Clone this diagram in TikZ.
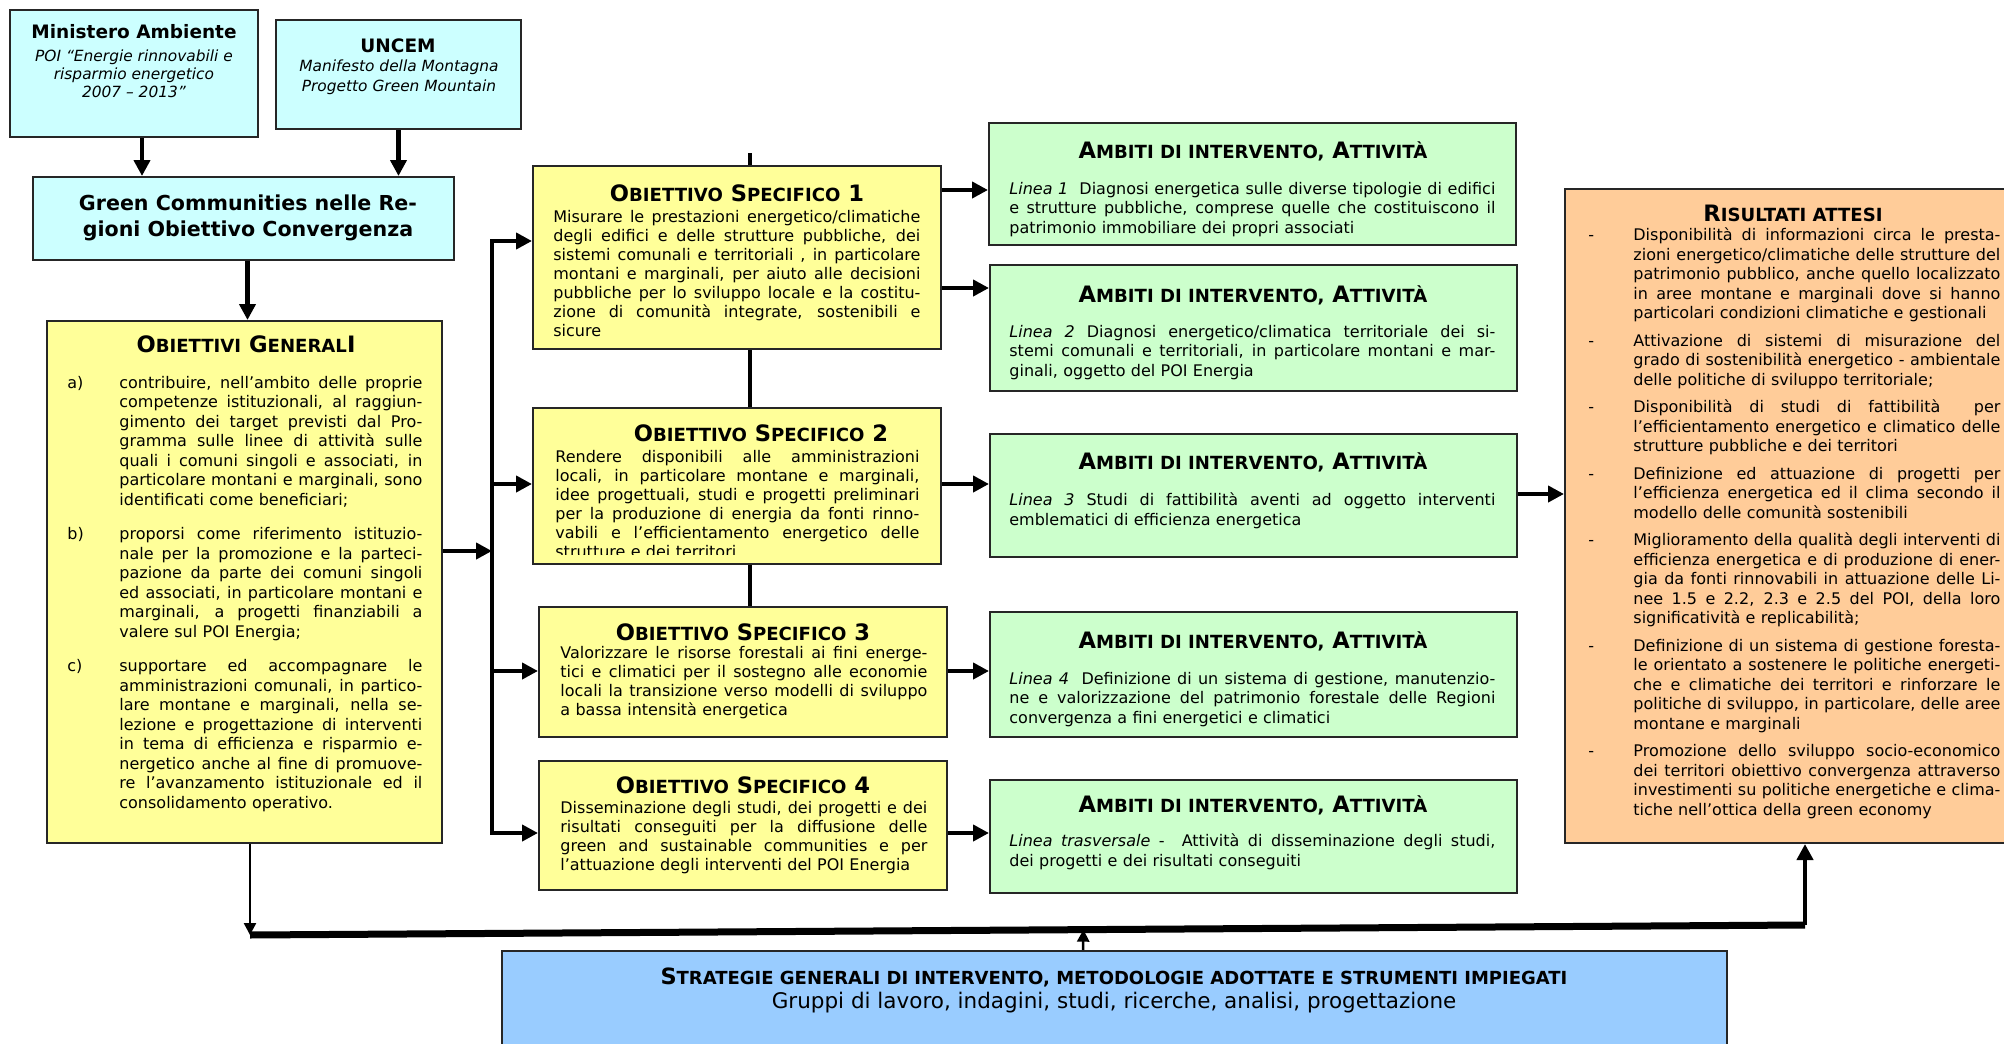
\documentclass[tikz,border=0pt]{standalone}
\usepackage{fontspec}
\setmainfont{DejaVu Sans}
\usetikzlibrary{arrows.meta, fit, calc}

\definecolor{cyanbox}{HTML}{CCFFFF}
\definecolor{yellowbox}{HTML}{FFFF99}
\definecolor{greenbox}{HTML}{CCFFCC}
\definecolor{orangebox}{HTML}{FFCC99}
\definecolor{bluebox}{HTML}{99CCFF}

\newcommand{\smsize}{9.05}
\newcommand{\sm}[1]{{\fontsize{\smsize}{10}\selectfont #1}}
\newcommand{\jlw}{\linewidth}
\newcommand{\jl}[1]{\leavevmode\hbox to \jlw{\spaceskip=0.32em plus 1fil\relax #1}\newline}
\newcommand{\ttlfont}{\fontsize{11.3}{13}\selectfont\bfseries}
\newcommand{\bodyfont}{\fontsize{8}{9.5}\selectfont}

\begin{document}
\begin{tikzpicture}[x=0.5pt, y=-0.5pt,
    box/.style={draw=black!85, line width=1pt, inner sep=0pt},
    cbox/.style={box, fill=cyanbox},
    ybox/.style={box, fill=yellowbox},
    gbox/.style={box, fill=greenbox},
    obox/.style={box, fill=orangebox},
    bbox/.style={box, fill=bluebox},
    ttl/.style={inner sep=0pt, anchor=base, font=\ttlfont},
    note/.style={inner sep=0pt, anchor=north, align=center, font=\fontsize{7.7}{9}\selectfont\itshape},
    body/.style={inner sep=0pt, anchor=north west, font=\bodyfont},
    arr/.style={line width=2.25pt, -{Triangle[length=8pt, width=8pt]}},
    arrthin/.style={line width=1.25pt, -{Triangle[length=6pt, width=6pt]}},
    link/.style={line width=2.25pt}]

    \useasboundingbox (0,0) rectangle (2004,1044);

    % Sources
    \node[cbox, fit={(10,10)(258,137)}] (min) {};
    \node[ttl, font=\fontsize{9.25}{11}\selectfont\bfseries] (mint) at (134,39) {Ministero Ambiente};
    \node[note] (minx) at (134,49) {POI “Energie rinnovabili e\\risparmio energetico\\2007 – 2013”};

    \node[cbox, fit={(276,20)(521,129)}] (unc) {};
    \node[ttl, font=\fontsize{9.25}{11}\selectfont\bfseries] (unct) at (398,53) {UNCEM};
    \node[note, font=\fontsize{7.7}{10}\selectfont\itshape] (uncx) at (399,59) {Manifesto della Montagna\\Progetto Green Mountain};

    \node[cbox, fit={(33,177)(454,260)}] (gc) {};
    \node[inner sep=0pt, anchor=north, align=center, font=\fontsize{10.3}{13}\selectfont\bfseries] (gct) at (248,194)
        {Green Communities nelle Re-\\gioni Obiettivo Convergenza};

    % General objectives
    \node[ybox, fit={(47,321)(442,843)}] (og) {};
    \node[ttl] (ogt) at (246,352) {O\sm{BIETTIVI} G\sm{ENERAL}I};
    \node[body, text width=177.5pt, font=\fontsize{8}{9.75}\selectfont] (ogx) at (67,375.5) {%
        \parindent=0pt\leftskip=26pt\def\jlw{151.5pt}%
        \leavevmode\llap{\makebox[26pt][l]{a)}}%
        \jl{contribuire, nell’ambito delle proprie}
        \jl{competenze istituzionali, al raggiun-}
        \jl{gimento dei target previsti dal Pro-}
        \jl{gramma sulle linee di attività sulle}
        \jl{quali i comuni singoli e associati, in}
        \jl{particolare montani e marginali, sono}
        identificati come beneficiari;\par\vspace{7.5pt}
        \leavevmode\llap{\makebox[26pt][l]{b)}}%
        \jl{proporsi come riferimento istituzio-}
        \jl{nale per la promozione e la parteci-}
        \jl{pazione da parte dei comuni singoli}
        \jl{ed associati, in particolare montani e}
        \jl{marginali, a progetti finanziabili a}
        valere sul POI Energia;\par\vspace{7.5pt}
        \leavevmode\llap{\makebox[26pt][l]{c)}}%
        \jl{supportare ed accompagnare le}
        \jl{amministrazioni comunali, in partico-}
        \jl{lare montane e marginali, nella se-}
        \jl{lezione e progettazione di interventi}
        \jl{in tema di efficienza e risparmio e-}
        \jl{nergetico anche al fine di promuove-}
        \jl{re l’avanzamento istituzionale ed il}
        consolidamento operativo.\par};

    % Specific objectives
    \node[ybox, fit={(533,166)(941,349)}] (os1) {};
    \node[ttl] (os1t) at (737,201) {O\sm{BIETTIVO} S\sm{PECIFICO} 1};
    \node[body, text width=183.5pt] (os1x) at (553,209.5) {%
        \jl{Misurare le prestazioni energetico/climatiche}
        \jl{degli edifici e delle strutture pubbliche, dei}
        \jl{sistemi comunali e territoriali , in particolare}
        \jl{montani e marginali, per aiuto alle decisioni}
        \jl{pubbliche per lo sviluppo locale e la costitu-}
        \jl{zione di comunità integrate, sostenibili e}
        sicure};

    \node[ybox, fit={(533,408)(941,564)}] (os2) {};
    \node[ttl] (os2t) at (761,441) {O\sm{BIETTIVO} S\sm{PECIFICO} 2};
    \begin{scope}
        \clip (os2.north west) rectangle ([yshift=5.5pt]os2.south east);
        \node[body, text width=182pt] (os2x) at (555,449.5) {%
            \jl{Rendere disponibili alle amministrazioni}
            \jl{locali, in particolare montane e marginali,}
            \jl{idee progettuali, studi e progetti preliminari}
            \jl{per la produzione di energia da fonti rinno-}
            \jl{vabili e l’efficientamento energetico delle}
            strutture e dei territori};
    \end{scope}

    \node[ybox, fit={(539,607)(947,737)}] (os3) {};
    \node[ttl] (os3t) at (743,640) {O\sm{BIETTIVO} S\sm{PECIFICO} 3};
    \node[body, text width=183.5pt] (os3x) at (560,645.5) {%
        \jl{Valorizzare le risorse forestali ai fini energe-}
        \jl{tici e climatici per il sostegno alle economie}
        \jl{locali la transizione verso modelli di sviluppo}
        a bassa intensità energetica};

    \node[ybox, fit={(539,761)(947,890)}] (os4) {};
    \node[ttl] (os4t) at (743,793) {O\sm{BIETTIVO} S\sm{PECIFICO} 4};
    \node[body, text width=183.5pt] (os4x) at (560,800.5) {%
        \jl{Disseminazione degli studi, dei progetti e dei}
        \jl{risultati conseguiti per la diffusione delle}
        \jl{green and sustainable communities e per}
        l’attuazione degli interventi del POI Energia};

    % Lines of intervention
    \node[gbox, fit={(989,123)(1516,245)}] (a1) {};
    \node[ttl] (a1t) at (1253,158) {A\sm{MBITI DI INTERVENTO,} A\sm{TTIVITÀ}};
    \node[body, text width=243pt, font=\fontsize{8}{9.75}\selectfont] (a1x) at (1009,181.5) {%
        \jl{\textit{Linea 1}\ \ Diagnosi energetica sulle diverse tipologie di edifici}
        \jl{e strutture pubbliche, comprese quelle che costituiscono il}
        patrimonio immobiliare dei propri associati};

    \node[gbox, fit={(990,265)(1517,391)}] (a2) {};
    \node[ttl] (a2t) at (1253,302) {A\sm{MBITI DI INTERVENTO,} A\sm{TTIVITÀ}};
    \node[body, text width=243pt, font=\fontsize{8}{9.75}\selectfont] (a2x) at (1009,324.5) {%
        \jl{\textit{Linea 2}\ Diagnosi energetico/climatica territoriale dei si-}
        \jl{stemi comunali e territoriali, in particolare montani e mar-}
        ginali, oggetto del POI Energia};

    \node[gbox, fit={(990,434)(1517,557)}] (a3) {};
    \node[ttl] (a3t) at (1253,469) {A\sm{MBITI DI INTERVENTO,} A\sm{TTIVITÀ}};
    \node[body, text width=243pt, font=\fontsize{8}{9.75}\selectfont] (a3x) at (1009,492.5) {%
        \jl{\textit{Linea 3}\ Studi di fattibilità aventi ad oggetto interventi}
        emblematici di efficienza energetica};

    \node[gbox, fit={(990,612)(1517,737)}] (a4) {};
    \node[ttl] (a4t) at (1253,648) {A\sm{MBITI DI INTERVENTO,} A\sm{TTIVITÀ}};
    \begin{scope}
        \clip (a4.north west) rectangle ([yshift=5.5pt]a4.south east);
        \node[body, text width=243pt, font=\fontsize{8}{9.75}\selectfont] (a4x) at (1009,671.5) {%
            \jl{\textit{Linea 4}\ \ Definizione di un sistema di gestione, manutenzio-}
            \jl{ne e valorizzazione del patrimonio forestale delle Regioni}
            convergenza a fini energetici e climatici};
    \end{scope}

    \node[gbox, fit={(990,780)(1517,893)}] (a5) {};
    \node[ttl] (a5t) at (1253,812) {A\sm{MBITI DI INTERVENTO,} A\sm{TTIVITÀ}};
    \node[body, text width=243pt, font=\fontsize{8}{9.75}\selectfont] (a5x) at (1009,833.5) {%
        \jl{\textit{Linea trasversale} -\ \ Attività di disseminazione degli studi,}
        dei progetti e dei risultati conseguiti};

    % Expected results
    \node[obox, fit={(1565,189)(2030,843)}] (res) {};
    \node[ttl] (rest) at (1793,221) {R\sm{ISULTATI ATTESI}};
    \node[body, text width=206pt, font=\fontsize{8}{9.75}\selectfont] (resx) at (1588,227.5) {%
        \parindent=0pt\leftskip=22.5pt\def\jlw{183.5pt}%
        \leavevmode\llap{\makebox[22.5pt][l]{-}}%
        \jl{Disponibilità di informazioni circa le presta-}
        \jl{zioni energetico/climatiche delle strutture del}
        \jl{patrimonio pubblico, anche quello localizzato}
        \jl{in aree montane e marginali dove si hanno}
        particolari condizioni climatiche e gestionali\par\vspace{4pt}
        \leavevmode\llap{\makebox[22.5pt][l]{-}}%
        \jl{Attivazione di sistemi di misurazione del}
        \jl{grado di sostenibilità energetico - ambientale}
        delle politiche di sviluppo territoriale;\par\vspace{4pt}
        \leavevmode\llap{\makebox[22.5pt][l]{-}}%
        \jl{Disponibilità di studi di fattibilità\ \ per}
        \jl{l’efficientamento energetico e climatico delle}
        strutture pubbliche e dei territori\par\vspace{4pt}
        \leavevmode\llap{\makebox[22.5pt][l]{-}}%
        \jl{Definizione ed attuazione di progetti per}
        \jl{l’efficienza energetica ed il clima secondo il}
        modello delle comunità sostenibili\par\vspace{4pt}
        \leavevmode\llap{\makebox[22.5pt][l]{-}}%
        \jl{Miglioramento della qualità degli interventi di}
        \jl{efficienza energetica e di produzione di ener-}
        \jl{gia da fonti rinnovabili in attuazione delle Li-}
        \jl{nee 1.5 e 2.2, 2.3 e 2.5 del POI, della loro}
        significatività e replicabilità;\par\vspace{4pt}
        \leavevmode\llap{\makebox[22.5pt][l]{-}}%
        \jl{Definizione di un sistema di gestione foresta-}
        \jl{le orientato a sostenere le politiche energeti-}
        \jl{che e climatiche dei territori e rinforzare le}
        \jl{politiche di sviluppo, in particolare, delle aree}
        montane e marginali\par\vspace{4pt}
        \leavevmode\llap{\makebox[22.5pt][l]{-}}%
        \jl{Promozione dello sviluppo socio-economico}
        \jl{dei territori obiettivo convergenza attraverso}
        \jl{investimenti su politiche energetiche e clima-}
        tiche nell’ottica della green economy\par};

    % Strategies
    \node[bbox, fit={(502,951)(1727,1070)}] (str) {};
    \node[ttl, font=\fontsize{11.2}{13}\selectfont\bfseries] (strt) at (1114,984)
        {\def\smsize{9}S\sm{TRATEGIE GENERALI DI INTERVENTO, METODOLOGIE ADOTTATE E STRUMENTI IMPIEGATI}};
    \node[inner sep=0pt, anchor=base, font=\fontsize{10.75}{13}\selectfont] (strx) at (1114,1008)
        {Gruppi di lavoro, indagini, studi, ricerche, analisi, progettazione};

    % Connectors
    \coordinate (bx) at (492,551);
    \coordinate (r0) at (0,241);
    \coordinate (r1) at (0,190);
    \coordinate (r2) at (0,288);
    \coordinate (r3) at (0,484);
    \coordinate (r4) at (0,671);
    \coordinate (r5) at (0,833);
    \coordinate (r6) at (0,494);
    \coordinate (tk) at (750,153);
    \coordinate (bl) at (250,935);
    \coordinate (br) at (1805,925);

    \draw[arr] ([xshift=4pt]min.south) -- ([xshift=4pt]min.south |- gc.north);
    \draw[arr] (unc.south) -- (unc.south |- gc.north);
    \draw[arr] ([xshift=2pt]gc.south) -- ([xshift=2pt]gc.south |- og.north);

    \draw[arr] (og.east |- bx) -- (bx);
    \draw[arr] (bx |- r5) -- (bx |- r0) -- (os1.west |- r0);
    \draw[arr] (bx |- r0) -- (bx |- r5) -- (os4.west |- r5);
    \draw[arr] (bx |- r3) -- (os2.west |- r3);
    \draw[arr] (bx |- r4) -- (os3.west |- r4);

    \draw[link] (tk) -- (tk |- os1.north);
    \draw[link] (os1.south -| tk) -- (os2.north -| tk);
    \draw[link] (os2.south -| tk) -- (os3.north -| tk);

    \draw[arr] (os1.east |- r1) -- (a1.west |- r1);
    \draw[arr] (os1.east |- r2) -- (a2.west |- r2);
    \draw[arr] (os2.east |- r3) -- (a3.west |- r3);
    \draw[arr] (os3.east |- r4) -- (a4.west |- r4);
    \draw[arr] (os4.east |- r5) -- (a5.west |- r5);
    \draw[arr] (a3.east |- r6) -- (res.west |- r6);

    % Bottom feedback line
    \draw[arrthin] (og.south -| bl) -- (bl);
    \draw[line width=3.5pt] (bl) -- (br);
    \draw[arrthin] ([xshift=-15.75pt]str.north) -- ($(bl)!0.536!(br)$);
    \draw[arr] (br) -- (br |- res.south);

\end{tikzpicture}
\end{document}
